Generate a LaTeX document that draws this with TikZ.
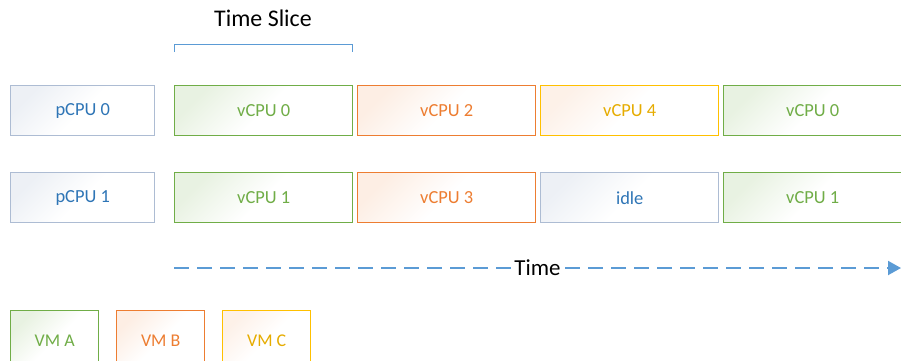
\documentclass[tikz,border=0pt]{standalone}
\usepackage{fontspec}
\setmainfont{Carlito}
\usetikzlibrary{arrows.meta}
\definecolor{vmgreen}{HTML}{70AD47}
\definecolor{vmorange}{HTML}{ED7D31}
\definecolor{vmgold}{HTML}{FFC000}
\definecolor{vmgoldtext}{HTML}{E6AC00}
\definecolor{cpuedge}{HTML}{ADBCD3}
\definecolor{cpublue}{HTML}{2E75B6}
\definecolor{axisblue}{HTML}{5B9BD5}
\tikzset{
  slot/.style n args={3}{draw=#1, line width=1.4pt, top color=#2, bottom color=white,
    middle color=white, shading angle=45, text=#3, font=\fontsize{18.5}{20}\selectfont,
    minimum width=178bp, minimum height=50bp, inner sep=0pt, anchor=north west},
  cpubox/.style={slot={cpuedge}{cpuedge!22}{cpublue}, minimum width=144bp},
  greenbox/.style={slot={vmgreen}{vmgreen!16}{vmgreen}},
  orangebox/.style={slot={vmorange}{vmorange!13}{vmorange}},
  goldbox/.style={slot={vmgold}{vmorange!11}{vmgoldtext}},
  idlebox/.style={slot={cpuedge}{cpuedge!22}{cpublue}},
  legendbox/.style={minimum width=88bp, minimum height=60bp,
    font=\fontsize{18}{20}\selectfont},
}
\begin{document}
\begin{tikzpicture}[x=1bp,y=-1bp]
\useasboundingbox (0,0) rectangle (901,360);

% time slice bracket
\coordinate (bl) at (174,52);
\coordinate (br) at (352,52);
\draw[axisblue, line width=0.9pt] (bl) -- ++(0,-8) -| (br);
\node[font=\fontsize{24}{26}\selectfont] (tslabel) at (263,18) {Time Slice};

% first physical CPU row
\node[cpubox] (p0) at (10,85) {pCPU 0};
\node[greenbox] (r0a) at (174,85) {vCPU 0};
\node[orangebox] (r0b) at (357,85) {vCPU 2};
\node[goldbox] (r0c) at (540,85) {vCPU 4};
\node[greenbox] (r0d) at (723,85) {vCPU 0};

% second physical CPU row
\node[cpubox] (p1) at (10,172) {pCPU 1};
\node[greenbox] (r1a) at (174,172) {vCPU 1};
\node[orangebox] (r1b) at (357,172) {vCPU 3};
\node[idlebox] (r1c) at (540,172) {idle};
\node[greenbox] (r1d) at (723,172) {vCPU 1};

% time axis
\coordinate (tstart) at (174,268);
\coordinate (tend) at (901,268);
\draw[axisblue, line width=2bp, dash pattern=on 15bp off 8bp,
  -{Triangle[length=13bp,width=14bp]}] (tstart) -- (tend)
  node[pos=0.5, fill=white, text=black, inner xsep=1pt, font=\fontsize{23}{24}\selectfont] (tlabel) {Time};

% legend of virtual machines
\node[slot={vmgreen}{vmgreen!16}{vmgreen}, legendbox] (vma) at (10,310) {VM A};
\node[slot={vmorange}{vmorange!13}{vmorange}, legendbox] (vmb) at (116,310) {VM B};
\node[slot={vmgold}{vmorange!11}{vmgoldtext}, legendbox] (vmc) at (222,310) {VM C};
\end{tikzpicture}
\end{document}
